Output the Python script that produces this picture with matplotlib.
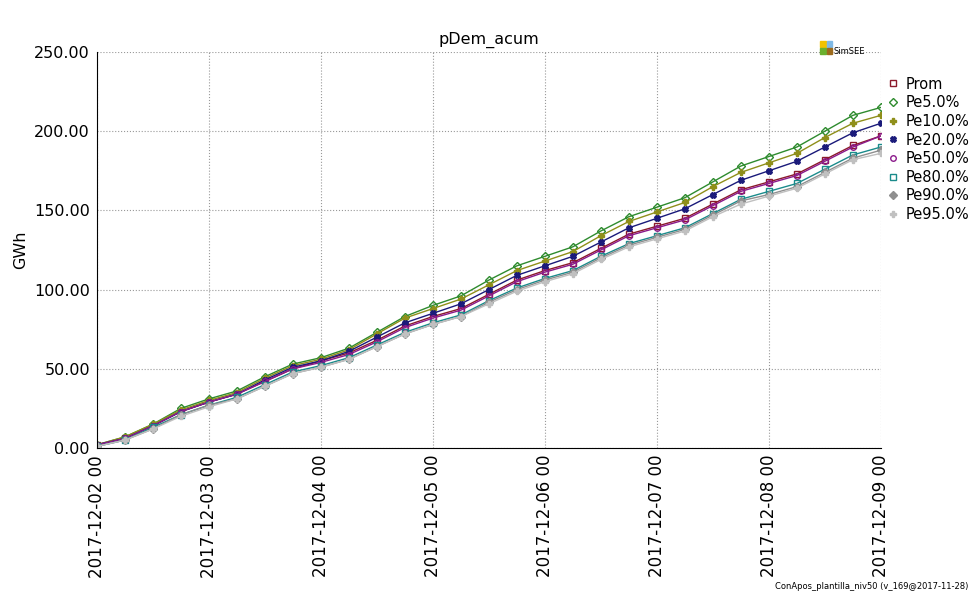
import numpy as np
import matplotlib.pyplot as plt
from matplotlib.patches import Rectangle

# 6-hourly samples, 2017-12-02 00 .. 2017-12-09 00
hours = np.arange(0, 169, 6)
day_labels = ["2017-12-%02d 00" % d for d in range(2, 10)]

prom = [2, 6, 14, 23, 29, 34, 42, 50, 55, 60, 68, 77, 83, 88, 97, 106, 112, 117, 126, 135, 140, 145, 154, 163, 168, 173, 182, 191, 197]
pe5 = [2, 7, 15, 25, 31, 36, 45, 53, 57, 63, 73, 83, 90, 96, 106, 115, 121, 127, 137, 146, 152, 158, 168, 178, 184, 190, 200, 210, 215]
pe10 = [2, 7, 15, 24, 30, 35, 44, 52, 56, 62, 72, 82, 88, 94, 103, 112, 118, 124, 134, 143, 149, 155, 165, 174, 180, 186, 196, 205, 210]
pe20 = [2, 6, 14, 23, 29, 34, 43, 51, 55, 61, 70, 79, 85, 91, 100, 109, 115, 121, 130, 139, 145, 151, 160, 169, 175, 181, 190, 199, 205]
pe50 = [2, 6, 14, 23, 29, 34, 42, 50, 54, 59, 67, 76, 82, 87, 96, 105, 111, 116, 125, 134, 139, 144, 153, 162, 167, 172, 181, 190, 197]
pe80 = [1, 5, 13, 21, 27, 32, 40, 48, 52, 57, 65, 73, 79, 84, 93, 101, 107, 112, 121, 129, 134, 139, 148, 157, 162, 167, 176, 185, 190]
pe90 = [1, 5, 12, 21, 27, 31, 39, 47, 51, 56, 64, 72, 78, 83, 92, 100, 106, 111, 120, 128, 133, 138, 147, 156, 160, 165, 174, 183, 188]
pe95 = [1, 5, 12, 20, 26, 31, 39, 47, 51, 56, 64, 72, 78, 83, 91, 99, 105, 110, 119, 127, 132, 137, 146, 154, 159, 164, 173, 182, 186]

series = [
    ("Prom", prom, "#8b1a2b", "s", True),
    ("Pe5.0%", pe5, "#2e8b2e", "D", True),
    ("Pe10.0%", pe10, "#8f8f1a", "P", False),
    ("Pe20.0%", pe20, "#1a1a7a", "X", False),
    ("Pe50.0%", pe50, "#8b1a8b", "o", True),
    ("Pe80.0%", pe80, "#1a8b8b", "s", True),
    ("Pe90.0%", pe90, "#8f8f8f", "D", False),
    ("Pe95.0%", pe95, "#c0c0c0", "P", False),
]

fig = plt.figure(figsize=(9.69, 5.91), dpi=100)
ax = fig.add_axes([0.1, 0.242, 0.809, 0.67])

for name, vals, col, mk, hollow in series:
    ax.plot(hours, vals, color=col, lw=1, marker=mk, ms=4,
            mfc="none" if hollow else col, mec=col, mew=1, label=name)

ax.set_xlim(0, 168)
ax.set_ylim(0, 250)
ax.set_xticks(np.arange(0, 169, 24))
ax.set_xticklabels(day_labels, rotation=90, fontsize=12)
ax.set_yticks(np.arange(0, 251, 50))
ax.set_yticklabels(["%.2f" % v for v in np.arange(0, 251, 50)], fontsize=11.5)
ax.grid(True, color="#999999", ls=":", lw=0.8)
ax.tick_params(length=0, pad=5)
for s in ["top", "right"]:
    ax.spines[s].set_visible(False)
ax.set_ylabel("GWh", fontsize=11.5)
ax.set_title("pDem_acum", fontsize=11.5)

leg = ax.legend(loc="upper left", bbox_to_anchor=(1.0, 0.96), frameon=False,
                fontsize=10.5, handlelength=0.5, handletextpad=0.6, labelspacing=0.25,
                borderpad=0.3, borderaxespad=0.3)
for h in leg.legend_handles:
    h.set_linestyle("none")

# SimSEE logo
tf = fig.transFigure
fig.patches.extend([
    Rectangle((0.846, 0.92), 0.006, 0.01, color="#f2c200", transform=tf),
    Rectangle((0.853, 0.92), 0.006, 0.01, color="#7fb9e6", transform=tf),
    Rectangle((0.846, 0.908), 0.006, 0.01, color="#6ab02e", transform=tf),
    Rectangle((0.853, 0.908), 0.006, 0.01, color="#9c6a1c", transform=tf),
])
fig.text(0.86, 0.909, "SimSEE", fontsize=6)
fig.text(0.999, 0.003, "ConApos_plantilla_niv50 (v_169@2017-11-28)", fontsize=6, ha="right")

fig.savefig("out.png")
